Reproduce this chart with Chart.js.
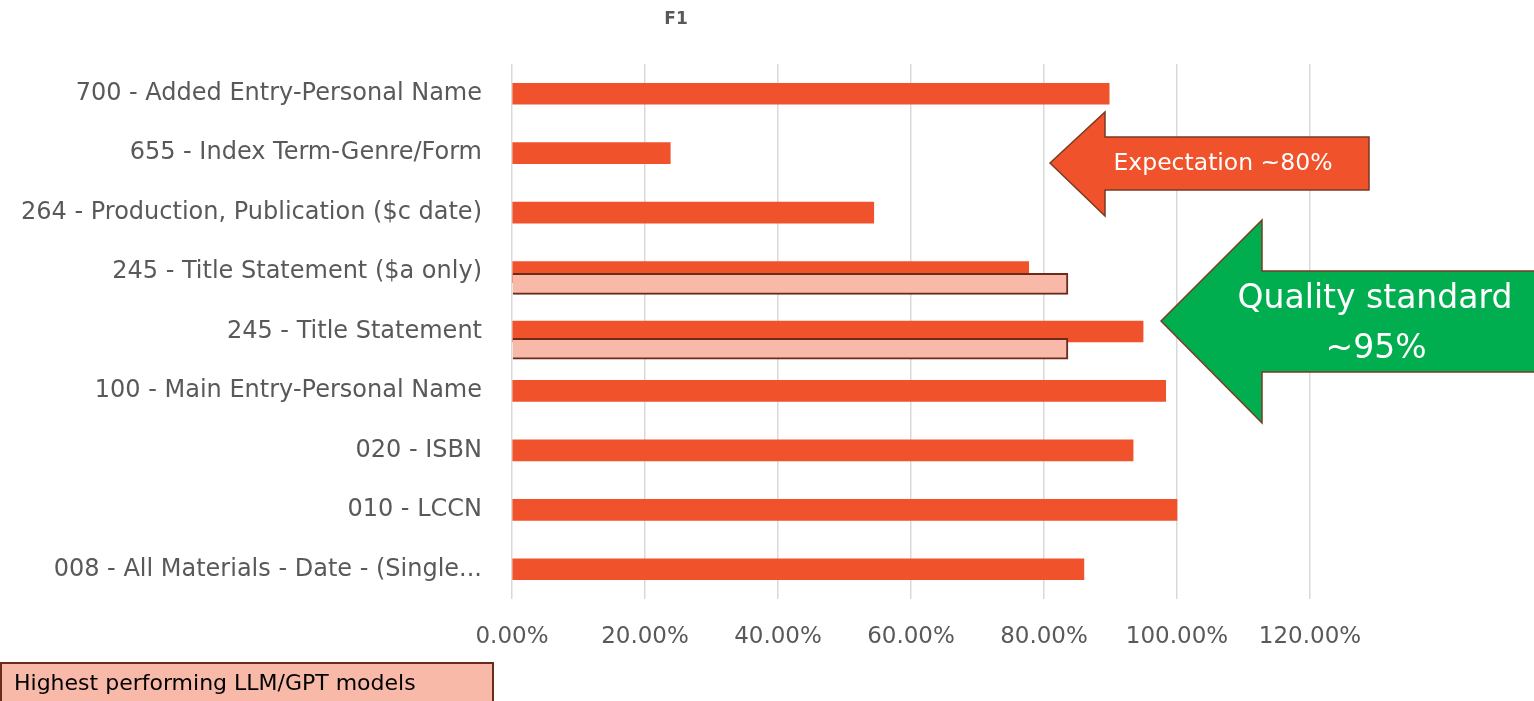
<!DOCTYPE html>
<html>
<head>
<meta charset="utf-8">
<script src="https://cdn.jsdelivr.net/npm/chart.js@4/dist/chart.umd.min.js"></script>
<style>
    html, body { margin: 0; padding: 0; background: #fff; }
    #wrap { width: 1534px; height: 701px; position: relative; }
</style>
</head>
<body>
<div id="wrap"><canvas id="chart" width="1534" height="701"></canvas></div>
<script>
// categories, top to bottom
const categories = [
    '700 - Added Entry-Personal Name',
    '655 - Index Term-Genre/Form',
    '264 - Production, Publication ($c date)',
    '245 - Title Statement ($a only)',
    '245 - Title Statement',
    '100 - Main Entry-Personal Name',
    '020 - ISBN',
    '010 - LCCN',
    '008 - All Materials - Date - (Single...'
];

// F1 per field
const f1Values = [0.898, 0.238, 0.544, 0.777, 0.949, 0.983, 0.934, 1.0, 0.860];

// best LLM/GPT result, only for the two 245 rows (drawn slightly below the row)
const llmRows = [3.2, 4.29];
const llmValues = [0.836, 0.836];

const xTicks = [0, 0.2, 0.4, 0.6, 0.8, 1.0, 1.2];

const ORANGE = '#F0522B';
const SALMON = '#F8B9A8';
const DARK_BORDER = '#6B2A1A';
const GREEN = '#00AD4F';
const FONT = '"DejaVu Sans", "Liberation Sans", sans-serif';

// title, callout arrows and the legend box
const overlayPlugin = {
    id: 'overlay',
    afterDraw(chart) {
        const ctx = chart.ctx;
        ctx.save();

        ctx.fillStyle = '#595959';
        ctx.font = 'bold 17px ' + FONT;
        ctx.textAlign = 'center';
        ctx.textBaseline = 'middle';
        ctx.fillText('F1', 676, 20);

        // orange arrow
        drawArrow(ctx, 1050, 163, 1105, 112, 216, 137, 190, 1369, ORANGE);
        ctx.fillStyle = '#fff';
        ctx.font = '23.5px ' + FONT;
        ctx.fillText('Expectation ~80%', 1223, 164);

        // green arrow
        drawArrow(ctx, 1161, 321, 1262, 220, 423, 271, 372, 1540, GREEN);
        ctx.fillStyle = '#fff';
        ctx.font = '33px ' + FONT;
        ctx.fillText('Quality standard', 1375, 299);
        ctx.fillText('~95%', 1376, 349);

        // legend box
        ctx.fillStyle = SALMON;
        ctx.fillRect(1, 663, 492, 40);
        ctx.strokeStyle = DARK_BORDER;
        ctx.lineWidth = 2;
        ctx.strokeRect(1, 663, 492, 40);
        ctx.fillStyle = '#000';
        ctx.font = '22px ' + FONT;
        ctx.textAlign = 'left';
        ctx.fillText('Highest performing LLM/GPT models', 14, 684);

        ctx.restore();
    }
};

function drawArrow(ctx, tipX, tipY, headX, headTop, headBottom, shaftTop, shaftBottom, endX, color) {
    ctx.beginPath();
    ctx.moveTo(tipX, tipY);
    ctx.lineTo(headX, headTop);
    ctx.lineTo(headX, shaftTop);
    ctx.lineTo(endX, shaftTop);
    ctx.lineTo(endX, shaftBottom);
    ctx.lineTo(headX, shaftBottom);
    ctx.lineTo(headX, headBottom);
    ctx.closePath();
    ctx.fillStyle = color;
    ctx.fill();
    ctx.strokeStyle = '#7A3A22';
    ctx.lineWidth = 1.5;
    ctx.stroke();
}

const config = {
    type: 'bar',
    data: {
        labels: categories,
        datasets: [
            {
                label: 'F1',
                data: f1Values,
                yAxisID: 'y',
                backgroundColor: ORANGE,
                barThickness: 21,
                grouped: false,
                order: 2
            },
            {
                label: 'Highest performing LLM/GPT models',
                data: llmValues.map((v, i) => ({ x: v, y: llmRows[i] })),
                yAxisID: 'y2',
                backgroundColor: SALMON,
                borderColor: DARK_BORDER,
                borderWidth: 2,
                barThickness: 21,
                grouped: false,
                order: 1
            }
        ]
    },
    options: {
        indexAxis: 'y',
        responsive: false,
        animation: false,
        layout: {
            padding: { top: 64, right: 224, bottom: 50, left: 0 }
        },
        plugins: {
            legend: { display: false },
            title: { display: false },
            tooltip: { enabled: false }
        },
        scales: {
            x: {
                min: 0,
                max: 1.2,
                afterBuildTicks: (scale) => {
                    scale.ticks = xTicks.map(v => ({ value: v }));
                },
                afterFit: (scale) => { scale.height = 52; },
                grid: { color: '#D9D9D9', lineWidth: 1.5, drawTicks: false },
                border: { display: false },
                ticks: {
                    color: '#595959',
                    font: { family: FONT, size: 23 },
                    padding: 24,
                    maxRotation: 0,
                    callback: (v) => (v * 100).toFixed(2) + '%'
                }
            },
            y: {
                type: 'category',
                grid: { display: false, drawTicks: false },
                border: { display: false },
                ticks: {
                    color: '#595959',
                    font: { family: FONT, size: 24 },
                    padding: 30,
                    autoSkip: false
                },
                afterFit: (scale) => { scale.width = 512; }
            },
            y2: {
                type: 'linear',
                display: false,
                offset: false,
                min: -0.5,
                max: categories.length - 0.5,
                reverse: true
            }
        }
    },
    plugins: [overlayPlugin]
};

new Chart(document.getElementById('chart'), config);
</script>
</body>
</html>
